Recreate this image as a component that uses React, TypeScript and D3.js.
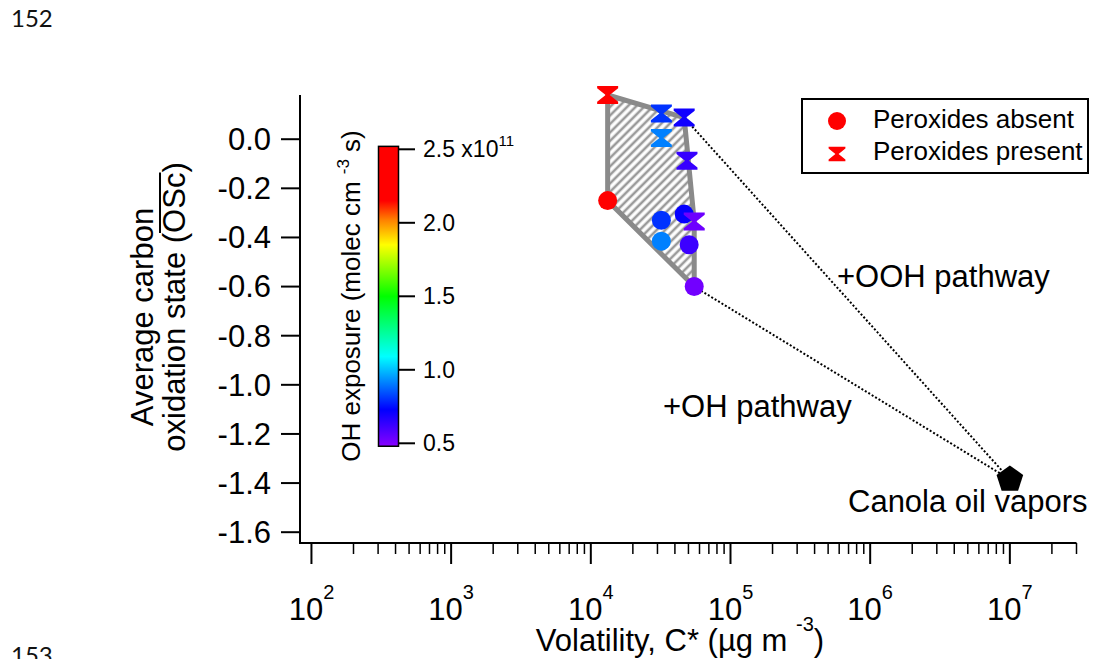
import React from 'react'
import * as d3 from 'd3'

// peroxides absent (circles)
const absentC = [1.32e4, 3.2e4, 3.2e4, 4.66e4, 5.06e4, 5.5e4]
const absentOSc = [-0.25, -0.33, -0.415, -0.305, -0.43, -0.6]
const absentOH = [2.4, 0.8, 0.91, 0.72, 0.62, 0.52]

// peroxides present (hourglass)
const presentC = [1.32e4, 3.2e4, 3.2e4, 4.66e4, 4.88e4, 5.5e4]
const presentOSc = [0.18, 0.105, 0.005, 0.088, -0.088, -0.335]
const presentOH = [2.4, 0.8, 0.91, 0.7, 0.63, 0.53]

// canola oil vapors
const vaporC = 1e7
const vaporOSc = -1.385

const yTickValues = [0.0, -0.2, -0.4, -0.6, -0.8, -1.0, -1.2, -1.4, -1.6]
const xDecades = [2, 3, 4, 5, 6, 7]
const cbarTicks = [0.5, 1.0, 1.5, 2.0, 2.5]
const rainbowStops = [0.48, 0.73, 1.09, 1.5, 1.85, 2.02, 2.15, 2.52]
const rainbowColors = ['#8800ff', '#0000ff', '#00ffff', '#00ff00', '#ffff00', '#ff8000', '#ff0000', '#ff0000']

const font = 'Liberation Sans, Arial, Helvetica, sans-serif'

const hourglass = (s: number) => {
  const w = 10.5 * s, h = 9 * s, c = 2.2 * s, k = 2 * s
  return `M${-w},${-h}L${w},${-h}L${w},${-h + c}L${k},0L${w},${h - c}L${w},${h}L${-w},${h}L${-w},${h - c}L${-k},0L${-w},${-h + c}Z`
}

const pentagon = (r: number) => {
  const pts = d3.range(5).map(i => {
    const a = -Math.PI / 2 + (i * 2 * Math.PI) / 5
    return [r * Math.cos(a), r * Math.sin(a)]
  })
  return 'M' + pts.map(p => p.join(',')).join('L') + 'Z'
}

export default function App() {
  const x = d3.scaleLog().domain([82.8, 3e7]).range([300, 1076.5])
  const y = d3.scaleLinear().domain([-1.644, 0.18]).range([543, 95])
  const cb = d3.scaleLinear().domain([0.5, 2.5]).range([443.3, 149.3])
  const color = d3.scaleLinear<string>().domain(rainbowStops).range(rainbowColors)

  const absent = absentC.map((c, i) => ({ c, o: absentOSc[i], oh: absentOH[i] }))
  const present = presentC.map((c, i) => ({ c, o: presentOSc[i], oh: presentOH[i] }))
  const allPts = [...absent, ...present].map(d => [x(d.c), y(d.o)] as [number, number])
  const hull = d3.polygonHull(allPts) || []
  const hullPath = 'M' + hull.map(p => p.join(',')).join('L') + 'Z'

  const minor: number[] = []
  xDecades.forEach(n => {
    for (let m = 2; m <= 9; m++) {
      const v = m * Math.pow(10, n)
      if (v <= 3e7) minor.push(v)
    }
  })

  const vx = x(vaporC), vy = y(vaporOSc)
  const topLink = present[3]
  const lowLink = absent[5]

  // overline for OSc (Arial metrics)
  const fs = 31
  const full = 9.337 * fs
  const ovStart = -full / 2 + 7.059 * fs
  const ovEnd = ovStart + 1.945 * fs

  const stops = rainbowStops.map((v, i) => ({
    off: (rainbowStops[rainbowStops.length - 1] - v) / (rainbowStops[rainbowStops.length - 1] - rainbowStops[0]),
    col: rainbowColors[i]
  }))

  return (
    <svg width={1093} height={659} style={{ position: 'absolute', left: 0, top: 0, background: '#fff' }} fontFamily={font}>
      <defs>
        <pattern id="hatch" patternUnits="userSpaceOnUse" width="6" height="6" patternTransform="rotate(45)">
          <rect width="6" height="6" fill="#fff" />
          <line x1="3" y1="0" x2="3" y2="6" stroke="#9a9a9a" strokeWidth="2.6" />
        </pattern>
        <linearGradient id="rainbow" x1="0" y1="0" x2="0" y2="1">
          {stops.slice().reverse().map((s, i) => (
            <stop key={i} offset={s.off} stopColor={s.col} />
          ))}
        </linearGradient>
      </defs>

      <text x={11} y={27} fontFamily="Lato, sans-serif" fontSize={24} fill="#111">152</text>
      <text x={11} y={664} fontFamily="Lato, sans-serif" fontSize={24} fill="#111">153</text>

      {/* axes */}
      <line x1={300} y1={95} x2={300} y2={544} stroke="#000" strokeWidth={2} />
      <line x1={299} y1={543} x2={1076.5} y2={543} stroke="#000" strokeWidth={2} />
      {yTickValues.map(v => (
        <g key={v}>
          <line x1={281} x2={300} y1={y(v)} y2={y(v)} stroke="#000" strokeWidth={2} />
          <text x={271} y={y(v)} dy="0.35em" textAnchor="end" fontSize={fs}>{v.toFixed(1)}</text>
        </g>
      ))}
      {xDecades.map(n => (
        <g key={n}>
          <line x1={x(Math.pow(10, n))} x2={x(Math.pow(10, n))} y1={543} y2={564} stroke="#000" strokeWidth={2} />
          <text x={x(Math.pow(10, n))} y={620} textAnchor="middle" fontSize={fs}>
            10<tspan dy={-21} fontSize={20}>{n}</tspan>
          </text>
        </g>
      ))}
      {minor.map(v => (
        <line key={v} x1={x(v)} x2={x(v)} y1={543} y2={554} stroke="#000" strokeWidth={1.5} />
      ))}
      <text x={680} y={651} textAnchor="middle" fontSize={fs}>
        Volatility, C* (µg m <tspan dy={-20} fontSize={20}>-3</tspan><tspan dy={20} fontSize={fs}>)</tspan>
      </text>

      <g transform="translate(153,317) rotate(-90)">
        <text textAnchor="middle" fontSize={fs}>Average carbon</text>
      </g>
      <g transform="translate(185,307) rotate(-90)">
        <text textAnchor="middle" fontSize={fs}>oxidation state (OSc)</text>
        <line x1={ovStart} x2={ovEnd} y1={-25} y2={-25} stroke="#000" strokeWidth={2} />
      </g>

      {/* colour bar */}
      <rect x={378.5} y={cb(2.52)} width={20} height={cb(0.48) - cb(2.52)} fill="url(#rainbow)" stroke="#000" strokeWidth={1.5} />
      {cbarTicks.map(v => (
        <g key={v}>
          <line x1={398.5} x2={415} y1={cb(v)} y2={cb(v)} stroke="#000" strokeWidth={2} />
          <text x={423} y={cb(v)} dy="0.35em" fontSize={23}>
            {v.toFixed(1)}
            {v === 2.5 && <tspan> x10<tspan dy={-11} fontSize={15}>11</tspan></tspan>}
          </text>
        </g>
      ))}
      <g transform="translate(360,296) rotate(-90)">
        <text textAnchor="middle" fontSize={26}>
          OH exposure (molec cm <tspan dy={-11} fontSize={17}>-3</tspan><tspan dy={11} fontSize={26}> s)</tspan>
        </text>
      </g>

      {/* hull */}
      <path d={hullPath} fill="url(#hatch)" stroke="#8a8a8a" strokeWidth={5} strokeLinejoin="round" />

      {/* pathways */}
      <line x1={x(topLink.c)} y1={y(topLink.o)} x2={vx} y2={vy} stroke="#000" strokeWidth={2} strokeDasharray="2 2" />
      <line x1={x(lowLink.c)} y1={y(lowLink.o)} x2={vx} y2={vy} stroke="#000" strokeWidth={2} strokeDasharray="2 2" />

      {absent.map((d, i) => (
        <circle key={'a' + i} cx={x(d.c)} cy={y(d.o)} r={9.5} fill={color(d.oh)} />
      ))}
      {present.map((d, i) => (
        <path key={'p' + i} d={hourglass(1)} transform={`translate(${x(d.c)},${y(d.o)})`} fill={color(d.oh)} />
      ))}
      <path d={pentagon(14)} transform={`translate(${vx},${vy})`} fill="#000" />

      <text x={837} y={287} fontSize={fs}>+OOH pathway</text>
      <text x={663} y={417} fontSize={fs}>+OH pathway</text>
      <text x={848} y={512} fontSize={fs}>Canola oil vapors</text>

      {/* legend */}
      <rect x={802} y={99} width={286} height={74} fill="#fff" stroke="#000" strokeWidth={2} />
      <circle cx={837} cy={121} r={9} fill="#ff0000" />
      <path d={hourglass(0.8)} transform="translate(837,154)" fill="#ff0000" />
      <text x={873} y={128} fontSize={26}>Peroxides absent</text>
      <text x={873} y={160} fontSize={26}>Peroxides present</text>
    </svg>
  )
}
